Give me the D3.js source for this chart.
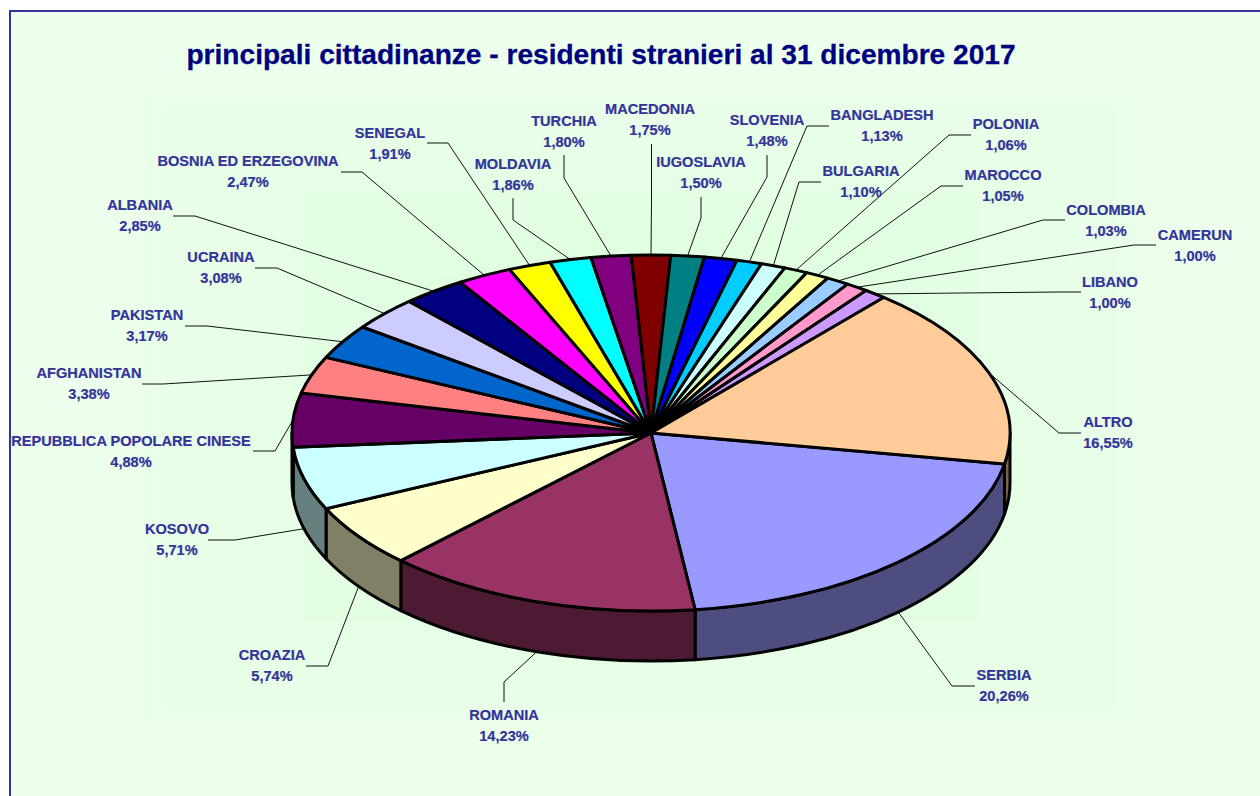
<!DOCTYPE html>
<html><head><meta charset="utf-8">
<script src="https://cdn.jsdelivr.net/npm/d3@7/dist/d3.min.js"></script>
<style>html,body{margin:0;padding:0;background:#fff;overflow:hidden}svg{display:block}
text{font-family:"Liberation Sans",Arial,sans-serif;font-weight:bold}</style>
</head><body><svg id="c" width="1260" height="796"></svg>
<script>
const titleText = "principali cittadinanze - residenti stranieri al 31 dicembre 2017";
const categories = ["SERBIA","ROMANIA","CROAZIA","KOSOVO","REPUBBLICA POPOLARE CINESE","AFGHANISTAN","PAKISTAN","UCRAINA","ALBANIA","BOSNIA ED ERZEGOVINA","SENEGAL","MOLDAVIA","TURCHIA","MACEDONIA","IUGOSLAVIA","SLOVENIA","BANGLADESH","BULGARIA","POLONIA","MAROCCO","COLOMBIA","CAMERUN","LIBANO","ALTRO"];
const shares = [20.26,14.23,5.74,5.71,4.88,3.38,3.17,3.08,2.85,2.47,1.91,1.86,1.80,1.75,1.50,1.48,1.13,1.10,1.06,1.05,1.03,1.00,1.00,16.55];
const colors = ["#9999FF","#993366","#FFFFCC","#CCFFFF","#660066","#FF8080","#0066CC","#CCCCFF","#000080","#FF00FF","#FFFF00","#00FFFF","#800080","#800000","#008080","#0000FF","#00CCFF","#CCFFFF","#CCFFCC","#FFFF99","#99CCFF","#FF99CC","#CC99FF","#FFCC99"];
// annotation placement, by category: label centre x, first-line centre y, leader end, leader elbow
const labelX = [1004,504,272,177,131,89,147,221,140,248,390,513,564,650,701,767,882,861,1006,1003,1106,1195,1110,1108];
const labelY = [675,715,655,529,441,373,315,257,205,161,133,164,121,109,162,120,115,171,124,175,210,235,282,422];
const leaderEnd = [[975,686],[504,702],[306,666],[208,540],[253,451],[142,384],[185,326],[255,268],[173,216],[341,172],[427,143],[513,198],[564,155],[651.5,144],[701,197],[767,155],[829,126],[821,182],[971,135],[963,186],[1065,220],[1156,245],[1081,292],[1081,433]];
const leaderElbow = [[952,686],[504,682],[328,666],[235,540],[275,451],[163,384],[207,326],[277,268],[195,216],[362,172],[448,143],[513,220],[564,178],[651.5,200],[701,218],[767,177],[807,126],[799,182],[949,135],[941,186],[1043,220],[1134,245],[1059,292],[1059,433]];

const W = 1260, H = 796;
const geom = {cx:651, cy:433, rx:359, ry:178, depth:50, start:100};
const svg = d3.select("#c");

// background: rectangular path gradient inside the frame
const frame = {x:10, y:11, w:1262, h:800};
const bandCount = 36;
const bandColor = d3.scaleLinear().domain([0,1]).range(["#EFFFEF","#D9FDD9"]).interpolate(d3.interpolateRgb);
const bg = svg.append("g");
const fcx = 640, fcy = 400;
bg.selectAll("rect").data(d3.range(bandCount)).join("rect")
  .attr("x", i => frame.x + (fcx-frame.x)*i/bandCount*0.98)
  .attr("y", i => frame.y + (fcy-frame.y)*i/bandCount*0.98)
  .attr("width", i => (frame.w) - (frame.w)*i/bandCount*0.98)
  .attr("height", i => (frame.h) - (frame.h)*i/bandCount*0.98)
  .attr("fill", i => bandColor(i/(bandCount-1)));
svg.append("rect").attr("x",frame.x).attr("y",frame.y).attr("width",frame.w).attr("height",frame.h)
  .attr("fill","none").attr("stroke","#333399").attr("stroke-width",2);

svg.append("text").attr("x",601).attr("y",64).attr("text-anchor","middle")
  .attr("font-size",28.1).attr("fill","#000080").attr("stroke","#000080").attr("stroke-width",0.3).text(titleText);

const rad = d3.scaleLinear().domain([0,360]).range([0,2*Math.PI]);
const pie = d3.pie().sort(null).value(d=>d)
  .startAngle(rad(geom.start)).endAngle(rad(geom.start+360));
const arcs = pie(shares);
const sx = d3.scaleLinear().domain([-1,1]).range([geom.cx-geom.rx,geom.cx+geom.rx]);
const sy = d3.scaleLinear().domain([-1,1]).range([geom.cy-geom.ry,geom.cy+geom.ry]);
const rimX = a => sx(Math.sin(a));
const rimY = a => sy(-Math.cos(a));
const norm = a => a >= 2*Math.PI ? a-2*Math.PI : a;

// leader lines
const leaders = svg.append("g");
arcs.forEach((d,i)=>{
  const m = norm((d.startAngle+d.endAngle)/2);
  const front = m>Math.PI/2 && m<3*Math.PI/2 && !(i===4);
  const p0 = [rimX(m), rimY(m)+(front?geom.depth:0)];
  leaders.append("path").datum([leaderEnd[i],leaderElbow[i],p0])
    .attr("d", d3.line()).attr("fill","none").attr("stroke","#111").attr("stroke-width",1);
});

// side wall
const sideG = svg.append("g");
arcs.forEach((d,i)=>{
  let a0=norm(d.startAngle), a1=a0+(d.endAngle-d.startAngle);
  a0=Math.max(a0,Math.PI/2); a1=Math.min(a1,3*Math.PI/2);
  if(a1<=a0) return;
  const large=(a1-a0)>Math.PI?1:0;
  const p=`M${rimX(a0)},${rimY(a0)}A${geom.rx},${geom.ry} 0 ${large} 1 ${rimX(a1)},${rimY(a1)}`+
    `L${rimX(a1)},${rimY(a1)+geom.depth}A${geom.rx},${geom.ry} 0 ${large} 0 ${rimX(a0)},${rimY(a0)+geom.depth}Z`;
  const c=d3.rgb(colors[i]);
  sideG.append("path").attr("d",p)
    .attr("fill", d3.rgb(c.r/2,c.g/2,c.b/2).formatHex())
    .attr("stroke","#000").attr("stroke-width",3).attr("stroke-linejoin","round");
});

// top surface
const arc = d3.arc().innerRadius(0).outerRadius(geom.rx);
svg.append("g").attr("transform",`translate(${geom.cx},${geom.cy}) scale(1,${geom.ry/geom.rx})`)
  .selectAll("path").data(arcs).join("path")
  .attr("d",arc).attr("fill",(d,i)=>colors[i])
  .attr("stroke","#000").attr("stroke-width",3).attr("stroke-linejoin","round")
  .attr("vector-effect","non-scaling-stroke");

// labels
const fmt = v => v.toFixed(2).replace(".",",")+"%";
const lab = svg.append("g").attr("font-size",14.6).attr("fill","#333399").attr("stroke","#333399").attr("stroke-width",0.2).attr("text-anchor","middle");
categories.forEach((c,i)=>{
  lab.append("text").attr("x",labelX[i]).attr("y",labelY[i]+5.2).text(c);
  lab.append("text").attr("x",labelX[i]).attr("y",labelY[i]+25.7).text(fmt(shares[i]));
});
</script></body></html>
